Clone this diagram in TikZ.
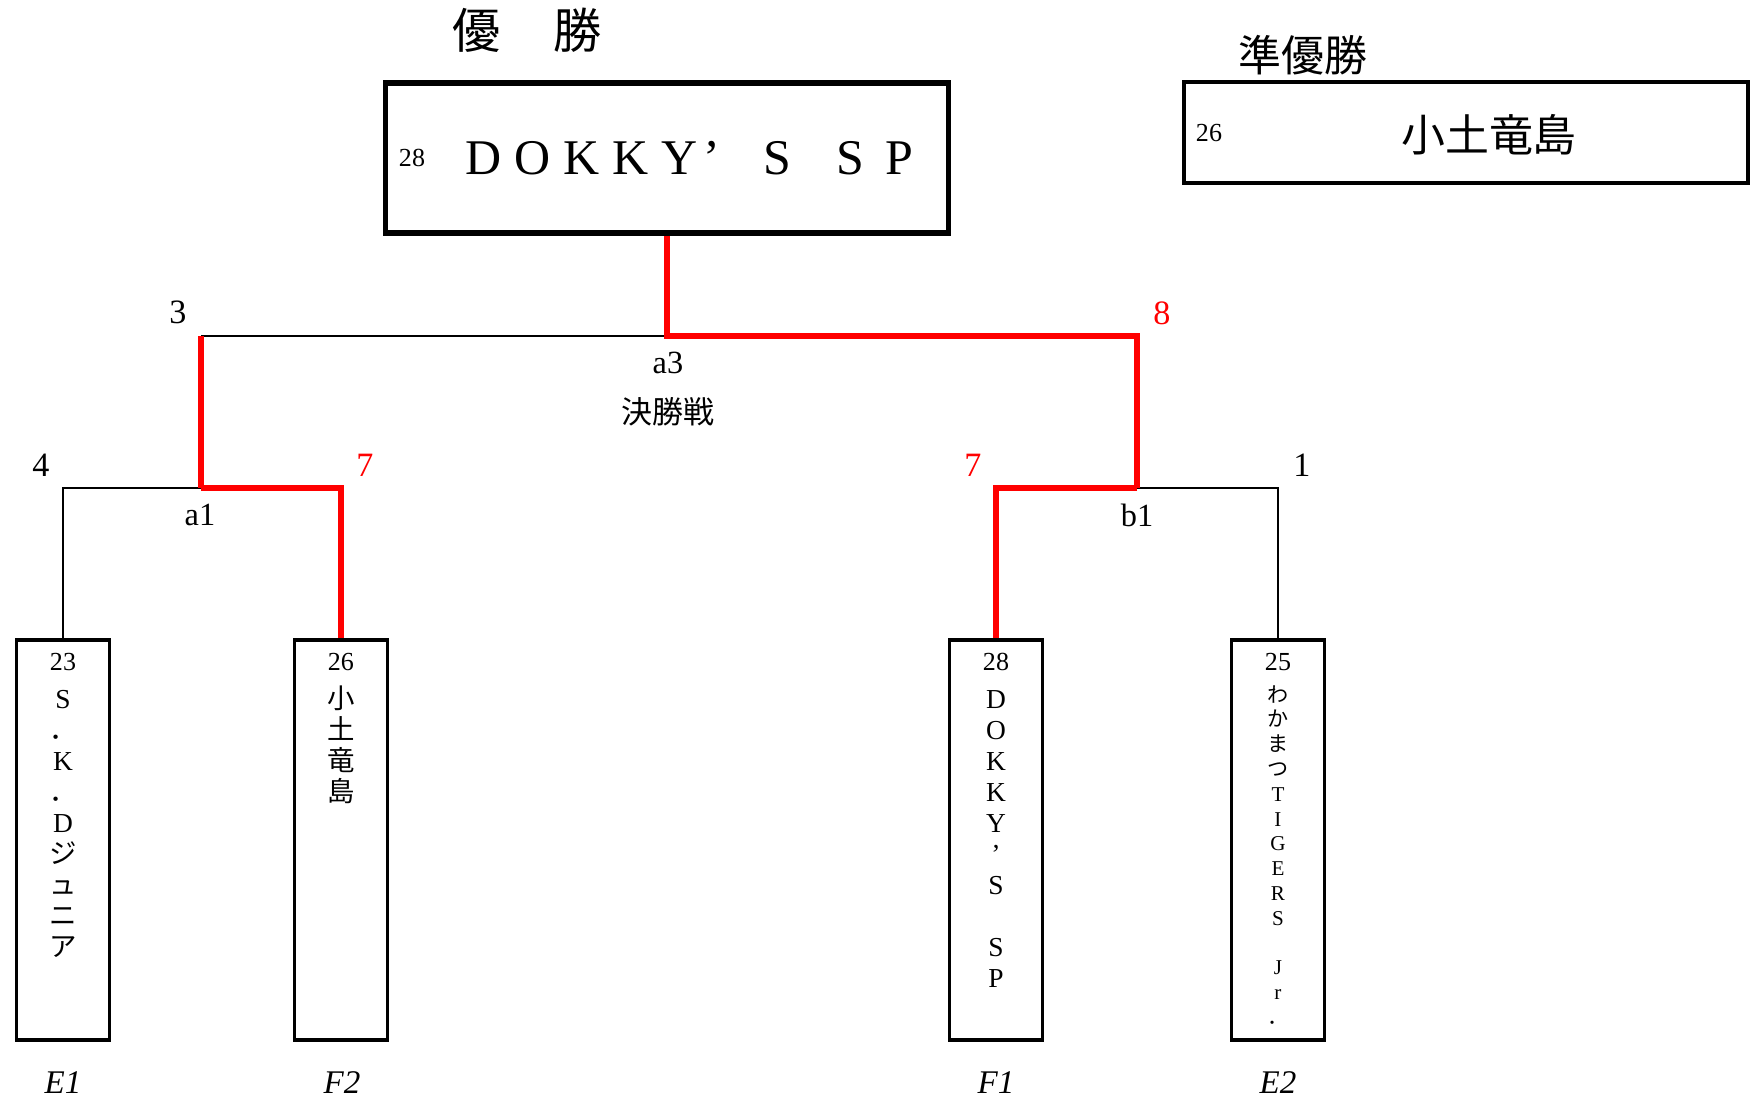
\documentclass[tikz,border=0pt]{standalone}
\usepackage{fontspec}
\setmainfont{Liberation Serif}
\newfontfamily\jp{Noto Sans CJK JP}
\usetikzlibrary{positioning}
\newcommand\fwc[1]{\makebox[0.49cm]{#1}}

\begin{document}
\begin{tikzpicture}[
    x=0.01cm, y=-0.01cm,
    inner sep=0pt, %boxes get their size from minimum width/height
    thinln/.style={draw=black,line width=0.5pt},
    winln/.style={draw=red,line width=1.6pt},
    bigbox/.style={draw=black,line width=1.6pt,
        minimum width=5.63cm,minimum height=1.5cm},
    subbox/.style={draw=black,line width=1.1pt,
        minimum width=5.64cm,minimum height=1.01cm},
    teambox/.style={draw=black,line width=1.1pt,
        minimum width=0.93cm,minimum height=4cm},
    score/.style={font=\fontsize{9.7}{11}\selectfont},
    rnd/.style={font=\fontsize{9.2}{10}\selectfont},
    seed/.style={font=\fontsize{7.4}{8}\selectfont},
    vch/.style={text height=5.1pt,text depth=0pt,
        font=\fontsize{7.8}{8}\selectfont},
    vsm/.style={text height=4pt,text depth=0pt,
        font=\fontsize{6}{7}\selectfont},
    slot/.style={font=\fontsize{9.4}{11}\selectfont\itshape},
    ]
    \useasboundingbox (0,0) rectangle (1753,1101);

    %Winner
    \node[font=\jp\fontsize{13.7}{15}\selectfont] (wtitle) at (527,30) {優\hspace{14.8pt}勝};
    \node[bigbox] (win) at (667,158) {};
    \node[seed] (wseed) at (412,158) {28};
    \node[font=\fontsize{14.2}{16}\selectfont,text height=9.4pt,text depth=0pt] (wname) at (691.5,158)
        {\fwc{D}\fwc{O}\fwc{K}\fwc{K}\fwc{Y}\makebox[0.49cm][l]{’}\fwc{S}\hspace{0.245cm}\fwc{S}\fwc{P}};

    %Runner-up
    \node[font=\jp\fontsize{12.2}{14}\selectfont] (rtitle) at (1303,55) {準優勝};
    \node[subbox] (ru) at (1466,132.5) {};
    \node[seed] (rseed) at (1209,133) {26};
    \node[font=\jp\fontsize{12.5}{14}\selectfont] (rname) at (1489,135) {小土竜島};

    %Teams
    \node[teambox] (E1) at (63,840) {};
    \node[teambox] (F2) at (341,840) {};
    \node[teambox] (F1) at (996,840) {};
    \node[teambox] (E2) at (1278,840) {};
    \node[seed] (sE1) at (63,662) {23};
    \node[seed] (sF2) at (341,662) {26};
    \node[seed] (sF1) at (996,662) {28};
    \node[seed] (sE2) at (1278,662) {25};

    %Team names, top to bottom
    \foreach \k/\c in {1/S,2/{\jp ．},3/K,4/{\jp ．},5/D,6/{\jp ジ},7/{\jp ュ},8/{\jp ニ},9/{\jp ア}}
        \node[vch] (nE1-\k) at (63,{700+30.9*(\k-1)}) {\c};
    \foreach \k/\c in {1/小,2/土,3/竜,4/島}
        \node[vch,font=\jp\fontsize{7.8}{8}\selectfont] (nF2-\k) at (341,{700+30.7*(\k-1)}) {\c};
    \foreach \k/\c in {1/D,2/O,3/K,4/K,5/Y,6/’,7/S,9/S,10/P}
        \node[vch] (nF1-\k) at (996,{700+30.9*(\k-1)}) {\c};
    \foreach \k/\c in {1/{\jp わ},2/{\jp か},3/{\jp ま},4/{\jp つ},5/T,6/I,7/G,8/E,9/R,10/S,12/J,13/r,14/{\jp ．}}
        \node[vsm] (nE2-\k) at (1278,{695+24.8*(\k-1)}) {\c};

    %Slots
    \node[slot] (lE1) at (63,1083) {E1};
    \node[slot] (lF2) at (342,1083) {F2};
    \node[slot] (lF1) at (996,1083) {F1};
    \node[slot] (lE2) at (1278,1083) {E2};

    %Junctions
    \coordinate (a3) at (667,336);
    \coordinate (s3) at (201,336);
    \coordinate (a1) at (201,488);
    \coordinate (b1) at (1137,488);

    %Lines
    \draw[thinln] (s3) -- (a3);
    \draw[thinln] (E1.north) |- (a1);
    \draw[thinln] (b1) -| (E2.north);
    \draw[winln] (win.south) -- (a3) -| (b1);
    \draw[winln] (a1) -- (s3);
    \draw[winln] (a1) -| (F2.north);
    \draw[winln] (b1) -| (F1.north);

    %Scores
    \node[score] (p3) at (178,312) {3};
    \node[score,red] (p8) at (1162,313) {8};
    \node[score] (p4) at (41,465) {4};
    \node[score,red] (p7a) at (365,465) {7};
    \node[score,red] (p7b) at (973,465) {7};
    \node[score] (p1) at (1302,465) {1};

    %Rounds
    \node[rnd] (la3) at (668,363) {a3};
    \node[rnd,font=\jp\fontsize{8.8}{10}\selectfont] (lfin) at (668,412) {決勝戦};
    \node[rnd] (la1) at (200,515) {a1};
    \node[rnd] (lb1) at (1137,515) {b1};

\end{tikzpicture}
\end{document}
